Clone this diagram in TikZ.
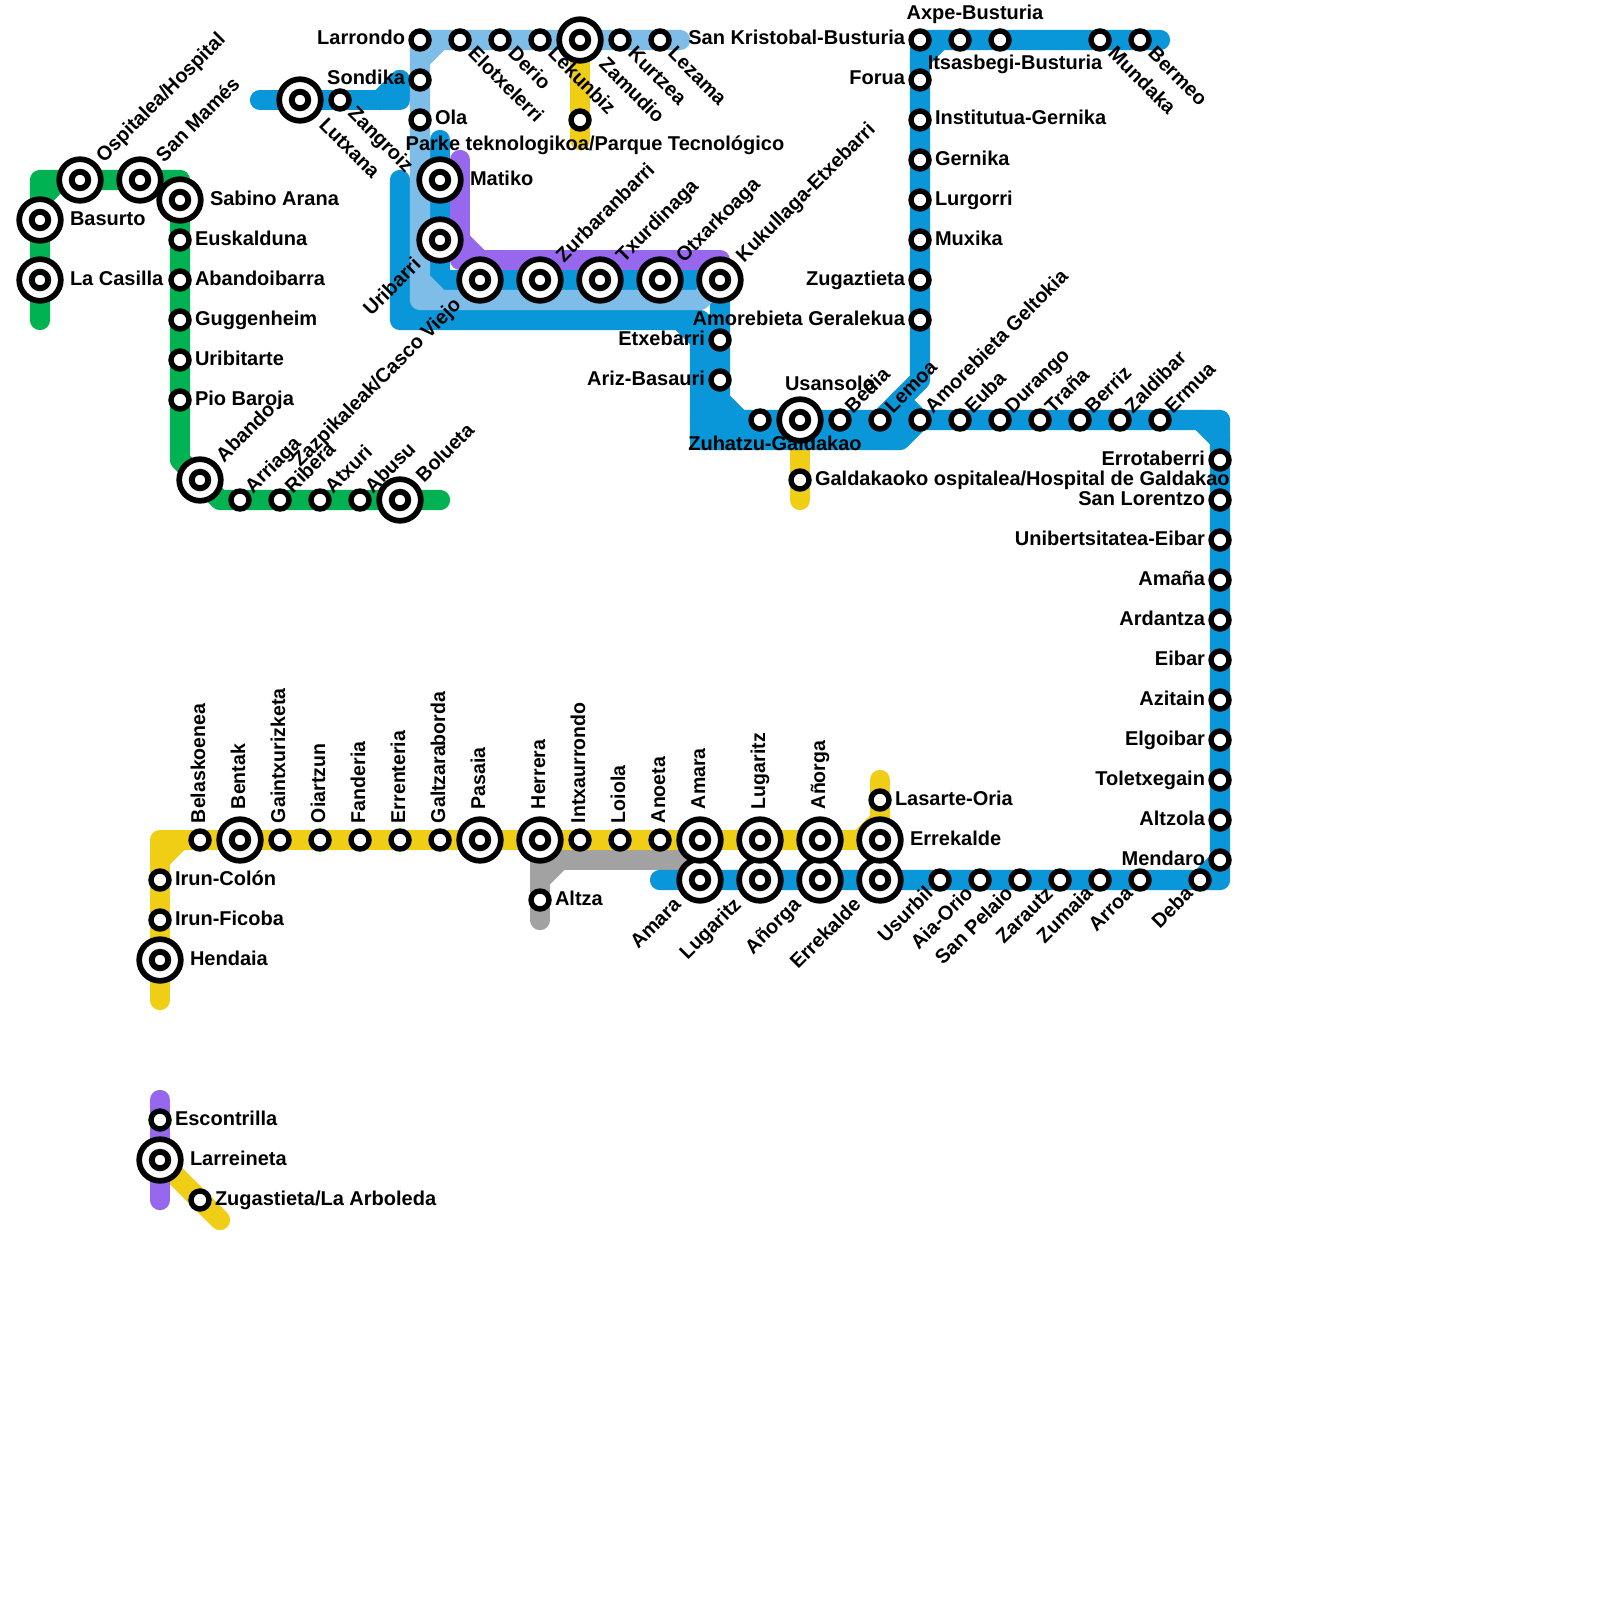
\documentclass[tikz,border=0pt]{standalone}
\usepackage{fontspec}
\setmainfont{Liberation Sans}
\definecolor{cgreen}{HTML}{00B251}
\definecolor{cblue}{HTML}{0A97D9}
\definecolor{clight}{HTML}{7DBDE8}
\definecolor{cyellow}{HTML}{F0CE15}
\definecolor{cpurple}{HTML}{9768EE}
\definecolor{cgrey}{HTML}{A2A2A2}
\pgfdeclarelayer{rails}
\pgfsetlayers{rails,main}
\tikzset{
 rail/.style={line width=10.15pt,line cap=round,line join=round},
 stopsmall/.style={circle,draw=black,fill=white,line width=2.7pt,minimum size=9pt,inner sep=0pt,outer sep=0pt},
 stopin/.style={circle,draw=black,fill=white,line width=2.95pt,minimum size=8.25pt,inner sep=0pt,outer sep=0pt},
 stopout/.style={circle,draw=black,fill=white,line width=2.85pt,minimum size=20.8pt,inner sep=0pt,outer sep=0pt},
 lab/.style={inner sep=0pt,outer sep=0pt,font=\fontsize{10pt}{12pt}\selectfont\bfseries},
 lr/.style={anchor=base west},
 ll/.style={anchor=base east},
 lc/.style={anchor=base},
 ru/.style={rotate=45,xscale=.99,anchor=base west},
 rd/.style={rotate=-45,xscale=.99,anchor=base west},
 lu/.style={rotate=45,xscale=.99,anchor=base east},
 up/.style={rotate=90,xscale=.975,anchor=base west},
}
% stations
\newcommand{\Ss}[3]{\node[stopsmall] (#1) at (#2,#3) {};}
\newcommand{\Sl}[3]{\node[stopout] (#1) at (#2,#3) {};\node[stopin] (#1-in) at (#1.center) {};}
% labels
\newcommand{\Lab}[5]{\node[lab,#4] (#1-l) at ([shift={(#2,#3)}]#1.center) {#5};}
\newcommand{\sR}[4]{\Ss{#1}{#2}{#3}\Lab{#1}{15}{5}{lr}{#4}}
\newcommand{\sL}[4]{\Ss{#1}{#2}{#3}\Lab{#1}{-15}{5}{ll}{#4}}
\newcommand{\sU}[4]{\Ss{#1}{#2}{#3}\Lab{#1}{13}{-6}{ru}{#4}}
\newcommand{\sD}[4]{\Ss{#1}{#2}{#3}\Lab{#1}{7}{15}{rd}{#4}}
\newcommand{\sB}[4]{\Ss{#1}{#2}{#3}\Lab{#1}{-6}{15}{lu}{#4}}
\newcommand{\sV}[4]{\Ss{#1}{#2}{#3}\Lab{#1}{5}{-17}{up}{#4}}
\newcommand{\lR}[4]{\Sl{#1}{#2}{#3}\Lab{#1}{30}{5}{lr}{#4}}
\newcommand{\lU}[4]{\Sl{#1}{#2}{#3}\Lab{#1}{24}{-17}{ru}{#4}}
\newcommand{\lD}[4]{\Sl{#1}{#2}{#3}\Lab{#1}{18}{26}{rd}{#4}}
\newcommand{\lB}[4]{\Sl{#1}{#2}{#3}\Lab{#1}{-18}{26}{lu}{#4}}
\newcommand{\lV}[4]{\Sl{#1}{#2}{#3}\Lab{#1}{5}{-31}{up}{#4}}
\begin{document}
\begin{tikzpicture}[x=0.5pt,y=-0.5pt]
\useasboundingbox (0,0) rectangle (1600,1600);
% --- green
\lR{basurto}{40}{220}{Basurto}
\lR{casilla}{40}{280}{La Casilla}
\lU{ospitalea}{80}{180}{Ospitalea/Hospital}
\lU{mames}{140}{180}{San Mamés}
\lR{sabino}{180}{200}{Sabino Arana}
\sR{euskalduna}{180}{240}{Euskalduna}
\sR{abandoibarra}{180}{280}{Abandoibarra}
\sR{guggenheim}{180}{320}{Guggenheim}
\sR{uribitarte}{180}{360}{Uribitarte}
\sR{pio}{180}{400}{Pio Baroja}
\lU{abando}{200}{480}{Abando}
\sU{arriaga}{240}{500}{Arriaga}
\sU{ribera}{280}{500}{Ribera}
\sU{atxuri}{320}{500}{Atxuri}
\sU{abusu}{360}{500}{Abusu}
\lU{bolueta}{400}{500}{Bolueta}
% --- short blue
\lD{lutxana}{300}{100}{Lutxana}
\sD{zangroiz}{340}{100}{Zangroiz}
% --- light blue
\sL{larrondo}{420}{40}{Larrondo}
\sD{elotxelerri}{460}{40}{Elotxelerri}
\sD{derio}{500}{40}{Derio}
\sD{lekunbiz}{540}{40}{Lekunbiz}
\lD{zamudio}{580}{40}{Zamudio}
\sD{kurtzea}{620}{40}{Kurtzea}
\sD{lezama}{660}{40}{Lezama}
\sL{sondika}{420}{80}{Sondika}
\sR{ola}{420}{120}{Ola}
\Ss{parke}{580}{120}\Lab{parke}{15}{30}{lc}{Parke teknologikoa/Parque Tecnológico}
\lR{matiko}{440}{180}{Matiko}
\lB{uribarri}{440}{240}{Uribarri}
\lB{zazpi}{480}{280}{Zazpikaleak/Casco Viejo}
\lU{zurbaran}{540}{280}{Zurbaranbarri}
\lU{txurdi}{600}{280}{Txurdinaga}
\lU{otxar}{660}{280}{Otxarkoaga}
\lU{kukullaga}{720}{280}{Kukullaga-Etxebarri}
% --- Bermeo line
\sL{kristobal}{920}{40}{San Kristobal-Busturia}
\Ss{axpe}{960}{40}\Lab{axpe}{15}{-20}{lc}{Axpe-Busturia}
\Ss{itsasbegi}{1000}{40}\Lab{itsasbegi}{15}{30}{lc}{Itsasbegi-Busturia}
\sD{mundaka}{1100}{40}{Mundaka}
\sD{bermeo}{1140}{40}{Bermeo}
\sL{forua}{920}{80}{Forua}
\sR{institutua}{920}{120}{Institutua-Gernika}
\sR{gernika}{920}{160}{Gernika}
\sR{lurgorri}{920}{200}{Lurgorri}
\sR{muxika}{920}{240}{Muxika}
\sL{zugaztieta}{920}{280}{Zugaztieta}
\sL{geralekua}{920}{320}{Amorebieta Geralekua}
\sL{etxebarri}{720}{340}{Etxebarri}
\sL{ariz}{720}{380}{Ariz-Basauri}
% --- row 420
\Ss{zuhatzu}{760}{420}\Lab{zuhatzu}{15}{30}{lc}{Zuhatzu-Galdakao}
\Sl{usansolo}{800}{420}\Lab{usansolo}{30}{-30}{lc}{Usansolo}
\sR{galdakaoko}{800}{480}{Galdakaoko ospitalea/Hospital de Galdakao}
\sU{bedia}{840}{420}{Bedia}
\sU{lemoa}{880}{420}{Lemoa}
\sU{geltokia}{920}{420}{Amorebieta Geltokia}
\sU{euba}{960}{420}{Euba}
\sU{durango}{1000}{420}{Durango}
\sU{trana}{1040}{420}{Traña}
\sU{berriz}{1080}{420}{Berriz}
\sU{zaldibar}{1120}{420}{Zaldibar}
\sU{ermua}{1160}{420}{Ermua}
% --- right column
\sL{errotaberri}{1220}{460}{Errotaberri}
\sL{lorentzo}{1220}{500}{San Lorentzo}
\sL{unibertsitatea}{1220}{540}{Unibertsitatea-Eibar}
\sL{amana}{1220}{580}{Amaña}
\sL{ardantza}{1220}{620}{Ardantza}
\sL{eibar}{1220}{660}{Eibar}
\sL{azitain}{1220}{700}{Azitain}
\sL{elgoibar}{1220}{740}{Elgoibar}
\sL{toletxegain}{1220}{780}{Toletxegain}
\sL{altzola}{1220}{820}{Altzola}
\sL{mendaro}{1220}{860}{Mendaro}
% --- row 880
\lB{amarab}{700}{880}{Amara}
\lB{lugaritzb}{760}{880}{Lugaritz}
\lB{anorgab}{820}{880}{Añorga}
\lB{errekaldeb}{880}{880}{Errekalde}
\sB{usurbil}{940}{880}{Usurbil}
\sB{aiaorio}{980}{880}{Aia-Orio}
\sB{pelaio}{1020}{880}{San Pelaio}
\sB{zarautz}{1060}{880}{Zarautz}
\sB{zumaia}{1100}{880}{Zumaia}
\sB{arroa}{1140}{880}{Arroa}
\sB{deba}{1200}{880}{Deba}
% --- row 840
\sV{belaskoenea}{200}{840}{Belaskoenea}
\lV{bentak}{240}{840}{Bentak}
\sV{gaintx}{280}{840}{Gaintxurizketa}
\sV{oiartzun}{320}{840}{Oiartzun}
\sV{fanderia}{360}{840}{Fanderia}
\sV{errenteria}{400}{840}{Errenteria}
\sV{galtzara}{440}{840}{Galtzaraborda}
\lV{pasaia}{480}{840}{Pasaia}
\lV{herrera}{540}{840}{Herrera}
\sV{intxaurrondo}{580}{840}{Intxaurrondo}
\sV{loiola}{620}{840}{Loiola}
\sV{anoeta}{660}{840}{Anoeta}
\lV{amaraa}{700}{840}{Amara}
\lV{lugaritza}{760}{840}{Lugaritz}
\lV{anorgaa}{820}{840}{Añorga}
\lR{errekaldea}{880}{840}{Errekalde}
\sR{lasarte}{880}{800}{Lasarte-Oria}
\sR{altza}{540}{900}{Altza}
\sR{irunc}{160}{880}{Irun-Colón}
\sR{irunf}{160}{920}{Irun-Ficoba}
\lR{hendaia}{160}{960}{Hendaia}
% --- Larreineta
\sR{escontrilla}{160}{1120}{Escontrilla}
\lR{larreineta}{160}{1160}{Larreineta}
\sR{zugastieta}{200}{1200}{Zugastieta/La Arboleda}
% free ends and bends of the lines
\coordinate (gA) at (40,320);\coordinate (gB) at (40,180);\coordinate (gC) at (180,180);\coordinate (gD) at (180,460);\coordinate (gE) at (220,500);\coordinate (gF) at (440,500);
\coordinate (g1) at (40,200);\coordinate (g2) at (60,180);\coordinate (g3) at (160,180);\coordinate (g4) at (180,200);
\coordinate (bsA) at (260,100);\coordinate (bsB) at (400,100);\coordinate (bsC) at (400,80);\coordinate (bs1) at (380,100);
\coordinate (bA) at (400,180);\coordinate (bB) at (400,320);\coordinate (bC) at (700,320);\coordinate (bD) at (700,440);\coordinate (bE) at (900,440);\coordinate (bF) at (920,420);\coordinate (bG) at (1220,420);\coordinate (bH) at (1220,880);\coordinate (bI) at (660,880);
\coordinate (b1) at (680,320);\coordinate (b2) at (700,340);\coordinate (b3) at (1200,420);\coordinate (b4) at (1220,440);\coordinate (b5) at (900,400);
\coordinate (b6) at (690,440);\coordinate (b7) at (710,450);
\coordinate (b8) at (400,300);\coordinate (b9) at (420,320);\coordinate (b10) at (700,420);\coordinate (b11) at (720,440);
\coordinate (cA) at (440,140);\coordinate (cB) at (440,280);
\coordinate (dA) at (720,400);\coordinate (dB) at (740,420);\coordinate (dC) at (720,420);\coordinate (dD) at (920,380);\coordinate (dE) at (920,40);\coordinate (dF) at (1160,40);\coordinate (d1) at (920,60);\coordinate (d2) at (940,40);
\coordinate (lA) at (680,40);\coordinate (lB) at (420,40);\coordinate (lC) at (420,300);\coordinate (lD) at (700,300);
\coordinate (l1) at (440,40);\coordinate (l2) at (420,60);\coordinate (l3) at (420,280);\coordinate (l4) at (440,300);
\coordinate (pA) at (460,160);\coordinate (pB) at (460,260);\coordinate (pC) at (720,260);\coordinate (p1) at (460,240);\coordinate (p2) at (480,260);
\coordinate (yA) at (880,780);\coordinate (yB) at (880,840);\coordinate (yC) at (160,840);\coordinate (yD) at (160,1000);
\coordinate (y1) at (880,820);\coordinate (y2) at (860,840);\coordinate (y3) at (180,840);\coordinate (y4) at (160,860);
\coordinate (y5) at (580,140);\coordinate (y6) at (800,440);\coordinate (y7) at (800,500);\coordinate (y8) at (220,1220);
\coordinate (kA) at (700,860);\coordinate (kB) at (540,860);\coordinate (kC) at (540,920);\coordinate (k1) at (560,860);\coordinate (k2) at (540,880);
\coordinate (vA) at (160,1100);\coordinate (vB) at (160,1200);
\begin{pgfonlayer}{rails}
\fill[white] (0,0) rectangle (1600,1600);
\draw[rail,cgreen] (gA)--(gB)--(gC)--(gD)--(gE)--(gF);
\draw[rail,cgreen] (g1)--(g2) (g3)--(g4);
\draw[rail,cyellow] (yA)--(yB)--(yC)--(yD);
\draw[rail,cyellow] (y1)--(y2) (y3)--(y4);
\draw[rail,cyellow] (zamudio.center)--(y5);
\draw[rail,cyellow] (y6)--(y7);
\draw[rail,cyellow] (larreineta.center)--(y8);
\draw[rail,cgrey] (kA)--(kB)--(kC);
\draw[rail,cgrey] (k1)--(k2);
\draw[rail,cpurple] (vA)--(vB);
\draw[rail,cpurple] (pA)--(pB)--(pC)--(kukullaga.center);
\draw[rail,cpurple] (p1)--(p2);
\draw[rail,cblue] (bsA)--(bsB)--(bsC);
\draw[rail,cblue] (bs1)--(bsC);
\draw[rail,cblue] (bA)--(bB)--(bC)--(bD)--(bE)--(bF)--(bG)--(bH)--(bI);
\draw[rail,cblue] (b1)--(b2) (b3)--(b4) (deba.center)--(mendaro.center) (b5)--(bF) (b8)--(b9) (b10)--(b11);
\fill[cblue] (b6) rectangle (b7);
\draw[rail,cblue] (cA)--(cB)--(kukullaga.center);
\draw[rail,cblue] (kukullaga.center)--(dA)--(dB)--(lemoa.center)--(dD)--(dE)--(dF);
\draw[rail,cblue] (dA)--(dC)--(dB) (lemoa.center)--(geltokia.center);
\draw[rail,cblue] (d1)--(d2);
\draw[rail,clight] (lA)--(lB)--(lC)--(lD)--(kukullaga.center);
\draw[rail,clight] (l1)--(l2) (l3)--(l4);
\end{pgfonlayer}
\end{tikzpicture}
\end{document}
